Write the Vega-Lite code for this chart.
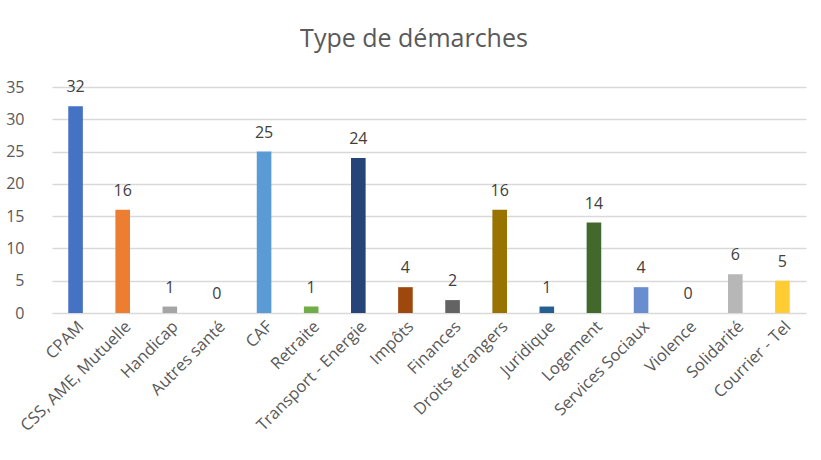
{
  "$schema": "https://vega.github.io/schema/vega-lite/v6.json",
  "width": 754,
  "height": 226,
  "autosize": {"type": "none"},
  "padding": {"left": 52, "top": 87, "right": 15, "bottom": 147},
  "background": "white",
  "title": {
    "text": "Type de démarches",
    "font": "Open Sans",
    "fontSize": 25,
    "fontWeight": "normal",
    "color": "#595959",
    "anchor": "middle",
    "dx": -15,
    "offset": 27
  },
  "data": {
    "values": [
      {"cat": "CPAM", "n": 32, "color": "#4472C4"},
      {"cat": "CSS, AME, Mutuelle", "n": 16, "color": "#ED7D31"},
      {"cat": "Handicap", "n": 1, "color": "#A5A5A5"},
      {"cat": "Autres santé", "n": 0, "color": "#FFC000"},
      {"cat": "CAF", "n": 25, "color": "#5B9BD5"},
      {"cat": "Retraite", "n": 1, "color": "#70AD47"},
      {"cat": "Transport - Energie", "n": 24, "color": "#264478"},
      {"cat": "Impôts", "n": 4, "color": "#9E480E"},
      {"cat": "Finances", "n": 2, "color": "#636363"},
      {"cat": "Droits étrangers", "n": 16, "color": "#997300"},
      {"cat": "Juridique", "n": 1, "color": "#255E91"},
      {"cat": "Logement", "n": 14, "color": "#43682B"},
      {"cat": "Services Sociaux", "n": 4, "color": "#698ED0"},
      {"cat": "Violence", "n": 0, "color": "#F1975A"},
      {"cat": "Solidarité", "n": 6, "color": "#B7B7B7"},
      {"cat": "Courrier - Tel", "n": 5, "color": "#FFCD33"}
    ]
  },
  "encoding": {
    "x": {
      "field": "cat",
      "type": "nominal",
      "sort": null,
      "scale": {"paddingInner": 0.69, "paddingOuter": 0.345},
      "axis": {
        "title": null,
        "labelAngle": -45,
        "labelFont": "Open Sans",
        "labelFontSize": 16.5,
        "labelColor": "#595959",
        "labelPadding": 5,
        "ticks": false,
        "domain": false
      }
    },
    "y": {
      "field": "n",
      "type": "quantitative",
      "scale": {"domain": [0, 35], "nice": false},
      "axis": {
        "title": null,
        "values": [0, 5, 10, 15, 20, 25, 30, 35],
        "labelFont": "Open Sans",
        "labelFontSize": 16,
        "labelColor": "#595959",
        "labelPadding": 28,
        "ticks": false,
        "domain": false,
        "grid": true,
        "gridColor": "#D9D9D9",
        "gridWidth": 1.5
      }
    }
  },
  "layer": [
    {
      "mark": {"type": "bar"},
      "encoding": {
        "color": {"field": "color", "type": "nominal", "scale": null, "legend": null}
      }
    },
    {
      "mark": {"type": "text", "dy": -19, "font": "Open Sans", "fontSize": 16, "color": "#404040"},
      "encoding": {"text": {"field": "n", "type": "quantitative"}}
    }
  ],
  "config": {"view": {"stroke": null}}
}
